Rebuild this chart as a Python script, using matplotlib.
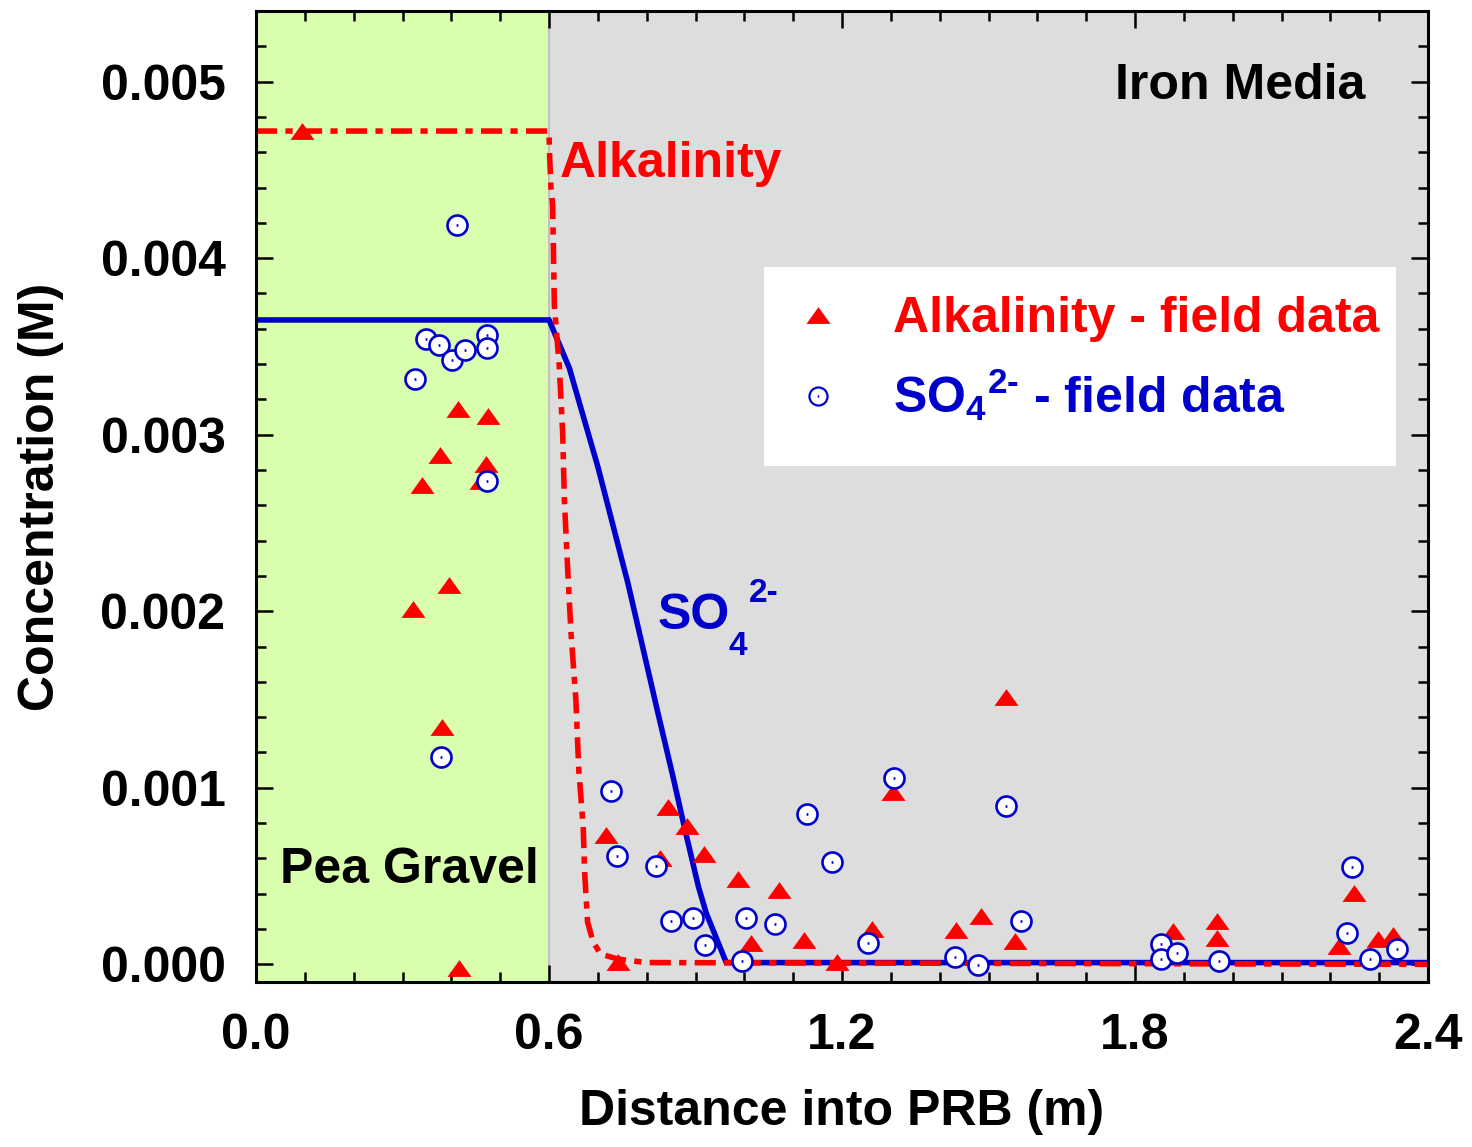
import matplotlib
matplotlib.use('Agg')
import matplotlib.pyplot as plt
from matplotlib.path import Path
from matplotlib.patches import Rectangle
from matplotlib.lines import Line2D
from matplotlib.ticker import MultipleLocator, FormatStrFormatter

plt.rcParams['font.family'] = ['Liberation Sans', 'DejaVu Sans']
plt.rcParams['font.weight'] = 'bold'
plt.rcParams['mathtext.fontset'] = 'custom'
plt.rcParams['mathtext.rm'] = 'Liberation Sans:bold'
plt.rcParams['mathtext.bf'] = 'Liberation Sans:bold'
plt.rcParams['mathtext.it'] = 'Liberation Sans:bold'
plt.rcParams['mathtext.default'] = 'rm'

# ---------------- data ----------------
alk_model_x = [0.0, 0.6, 0.601, 0.604, 0.6075, 0.611, 0.621, 0.628, 0.6315, 0.638,
               0.645, 0.655, 0.661, 0.670, 0.673, 0.679, 0.690, 0.705, 0.74, 0.80, 2.4]
alk_model_y = [0.00472, 0.00472, 0.0046, 0.0044, 0.0043, 0.00373, 0.00339, 0.00301,
               0.00263, 0.00225, 0.00188, 0.0015, 0.0011, 0.00078, 0.00052, 0.00024,
               0.00013, 0.00006, 0.00003, 0.00001, 0.0]

so4_model_x = [0.0, 0.6, 0.6006, 0.6417, 0.700, 0.7617, 0.8233, 0.854, 0.877,
               0.906, 0.922, 0.963, 2.4]
so4_model_y = [0.00365, 0.00365, 0.003647, 0.003377, 0.002819, 0.002158, 0.001421,
               0.001062, 0.00078, 0.00044, 0.00029, 0.00001, 0.00001]

alk_x = [0.0945, 0.4144, 0.4746, 0.376, 0.470, 0.3404, 0.460, 0.3945, 0.3205, 0.380,
         0.415, 0.8438, 0.8829, 0.717, 0.8267, 0.9178, 0.9877, 1.072, 1.013, 1.123,
         0.741, 1.19, 1.535, 1.305, 1.2616, 1.4328, 1.4849, 1.5547, 1.878, 1.967,
         1.967, 2.248, 2.217, 2.298, 2.328]
alk_y = [0.00472, 0.003148, 0.003106, 0.002885, 0.002836, 0.002715, 0.00274, 0.00215,
         0.00201, 0.001343, -0.00002, 0.000892, 0.000782, 0.000731, 0.000605, 0.000623,
         0.000482, 0.00042, 0.000123, 0.000136, 0.000013, 0.000015, 0.001515, 0.000977,
         0.000202, 0.000193, 0.000272, 0.00013, 0.000187, 0.000244, 0.000151, 0.000404,
         0.000102, 0.000146, 0.000164]

so4_x = [0.411, 0.3472, 0.3746, 0.402, 0.4274, 0.474, 0.474, 0.3246, 0.474, 0.378,
         0.7274, 0.7397, 0.8198, 1.128, 1.179, 0.8506, 0.895, 1.0027, 1.063, 0.919,
         0.9945, 1.306, 1.536, 1.566, 1.2527, 1.431, 1.4787, 1.854, 1.854, 1.886,
         1.972, 2.244, 2.235, 2.281, 2.337]
so4_y = [0.00419, 0.003541, 0.003509, 0.003424, 0.003477, 0.003566, 0.00349, 0.003316,
         0.00274, 0.001173, 0.000981, 0.000612, 0.000556, 0.000854, 0.00058, 0.000244,
         0.000263, 0.000263, 0.000231, 0.000108, 0.00002, 0.001056, 0.000897, 0.000246,
         0.000121, 0.000041, -0.000002, 0.000117, 0.000028, 0.000064, 0.000019,
         0.000552, 0.000178, 0.000028, 0.000085]

x_ticks = [0.0, 0.6, 1.2, 1.8, 2.4]
y_ticks = [0.000, 0.001, 0.002, 0.003, 0.004, 0.005]

# ---------------- styles ----------------
RED = '#ff0000'
BLUE = '#0000cc'
GREEN_BG = '#d9ffae'
GRAY_BG = '#dcdddc'

# open circle with a tiny centre mark
circle_dot = Path.make_compound_path(
    Path.unit_circle(),
    Path([(-0.09, 0.0), (0.09, 0.0)], [Path.MOVETO, Path.LINETO]))
tri = [(-1, -0.7), (1, -0.7), (0, 0.7)]

fig = plt.figure(figsize=(14.72, 11.47), dpi=100)
ax = fig.add_axes([256 / 1472, 1 - 982 / 1147, (1428 - 256) / 1472, (982 - 11) / 1147])

ax.set_xlim(0, 2.4)
ax.set_ylim(-0.0001, 0.0054)

ax.axvspan(0, 0.6, color=GREEN_BG, zorder=0, lw=0)
ax.axvspan(0.6, 2.4, color=GRAY_BG, zorder=0, lw=0)
ax.axvline(0.6, color='#b8b8b8', lw=1.2, zorder=0.5)

ax.plot(so4_model_x, so4_model_y, color=BLUE, lw=4.0, zorder=2, solid_joinstyle='miter')
ax.plot(alk_model_x, alk_model_y, color=RED, lw=4.0, zorder=3,
        linestyle=(0, (3.8, 1.5, 1.3, 1.5)))

ax.plot(alk_x, alk_y, linestyle='none', marker=tri, ms=17.3, mfc=RED, mec=RED,
        mew=0, zorder=4)
ax.plot(so4_x, so4_y, linestyle='none', marker=circle_dot, ms=14.4, mfc='white',
        mec=BLUE, mew=1.9, zorder=5)

# ticks & spines
ax.xaxis.set_minor_locator(MultipleLocator(0.1))
ax.yaxis.set_minor_locator(MultipleLocator(0.0002))
ax.set_xticks(x_ticks)
ax.set_yticks(y_ticks)
ax.xaxis.set_major_formatter(FormatStrFormatter('%.1f'))
ax.yaxis.set_major_formatter(FormatStrFormatter('%.3f'))
ax.tick_params(which='both', direction='in', top=True, right=True, width=1.8,
               colors='black')
ax.tick_params(which='major', length=12, labelsize=36)
ax.tick_params(which='minor', length=7.5)
ax.tick_params(axis='y', which='major', pad=22)
ax.tick_params(axis='x', which='major', pad=22)
for lab in ax.get_xticklabels() + ax.get_yticklabels():
    lab.set_fontweight('bold')
for sp in ax.spines.values():
    sp.set_linewidth(2.2)
    sp.set_color('black')
    sp.set_zorder(10)

ax.set_xlabel('Distance into PRB (m)', fontsize=36, fontweight='bold', labelpad=22)
ax.set_ylabel('Concentration (M)', fontsize=36, fontweight='bold', labelpad=26)

# annotations
ax.text(2.272, 0.0049, 'Iron Media', fontsize=36, fontweight='bold', color='black',
        ha='right', va='baseline', zorder=6)
ax.text(0.6226, 0.00446, 'Alkalinity', fontsize=36, fontweight='bold', color=RED,
        ha='left', va='baseline', zorder=6)
ax.text(0.049, 0.00046, 'Pea Gravel', fontsize=36, fontweight='bold', color='black',
        ha='left', va='baseline', zorder=6)
ax.text(0.822, 0.0019, 'SO', fontsize=36, fontweight='bold', color=BLUE,
        ha='left', va='baseline', zorder=6)
ax.text(1.009, 0.00205, '2-', fontsize=24, fontweight='bold', color=BLUE,
        ha='left', va='baseline', zorder=6)
ax.text(0.968, 0.00175, '4', fontsize=24, fontweight='bold', color=BLUE,
        ha='left', va='baseline', zorder=6)

# legend box
ax.add_patch(Rectangle((0.4334, 0.5314), 0.9727 - 0.4334, 0.7364 - 0.5314,
                       transform=ax.transAxes, facecolor='white', edgecolor='none',
                       zorder=7))
handles = [
    Line2D([], [], linestyle='none', marker=tri, ms=17.3, mfc=RED, mec=RED, mew=0),
    Line2D([], [], linestyle='none', marker=circle_dot, ms=13, mfc='white', mec=BLUE,
           mew=1.6),
]
labels = ['Alkalinity - field data', r'SO$_4{}^{2\text{-}}$ - field data']
leg = ax.legend(handles, labels, loc='upper left',
                bbox_to_anchor=((790 - 256) / 1172, (982 - 296) / 971),
                frameon=False, fontsize=36, borderpad=0, borderaxespad=0,
                handlelength=1.12, handletextpad=0.94, labelspacing=0.5)
leg.set_zorder(8)
for t, c in zip(leg.get_texts(), [RED, BLUE]):
    t.set_color(c)
    t.set_fontweight('bold')

fig.savefig('out.png', dpi=100)
